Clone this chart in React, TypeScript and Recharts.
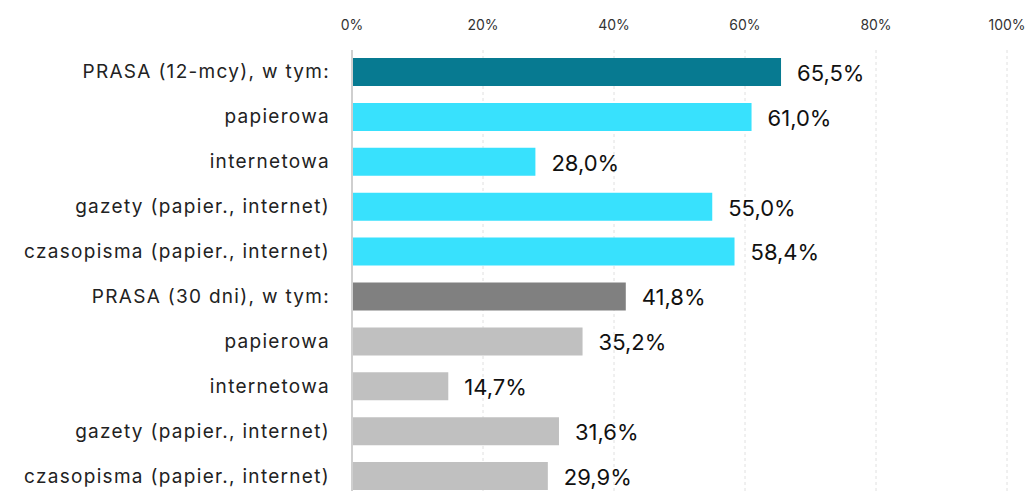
import React from "react";
import {
  BarChart,
  Bar,
  XAxis,
  YAxis,
  CartesianGrid,
  Cell,
  LabelList,
} from "recharts";

const categories = [
  "PRASA (12-mcy), w tym:",
  "papierowa",
  "internetowa",
  "gazety (papier., internet)",
  "czasopisma (papier., internet)",
  "PRASA (30 dni), w tym:",
  "papierowa",
  "internetowa",
  "gazety (papier., internet)",
  "czasopisma (papier., internet)",
];
const values = [65.5, 61.0, 28.0, 55.0, 58.4, 41.8, 35.2, 14.7, 31.6, 29.9];
const barColors = [
  "#077A91", "#38E1FD", "#38E1FD", "#38E1FD", "#38E1FD",
  "#808080", "#C0C0C0", "#C0C0C0", "#C0C0C0", "#C0C0C0",
];
const xTicks = [0, 20, 40, 60, 80, 100];

const data = categories.map((name, i) => ({ id: i, name, value: values[i] }));

const font = "Inter, 'Open Sans', sans-serif";
const pct = (v: number) => `${v.toFixed(1).replace(".", ",")}%`;

function CategoryTick({ x, y, payload }: any) {
  return (
    <text
      x={x - 14}
      y={y}
      dy={6}
      textAnchor="end"
      fontSize={19}
      letterSpacing={1.3}
      fill="#222"
      fontFamily={font}
    >
      {categories[payload.value]}
    </text>
  );
}

export default function App() {
  return (
    <div style={{ position: "absolute", left: 0, top: 0, background: "#fff" }}>
      <BarChart
        width={1029}
        height={499}
        data={data}
        layout="vertical"
        margin={{ top: 0, right: 22, bottom: 0, left: 0 }}
      >
        <CartesianGrid horizontal={false} stroke="#e0e0e0" strokeDasharray="3 3" />
        <XAxis
          type="number"
          orientation="top"
          domain={[0, 100]}
          ticks={xTicks}
          tickFormatter={(v) => `${v}%`}
          axisLine={false}
          tickLine={false}
          height={50}
          tick={{ fontSize: 14, fill: "#333", fontFamily: font }}
          dy={-12}
        />
        <YAxis
          type="category"
          dataKey="id"
          width={352}
          tick={<CategoryTick />}
          tickLine={false}
          axisLine={{ stroke: "#cfcfcf", strokeWidth: 2 }}
          interval={0}
        />
        <Bar dataKey="value" barSize={28} isAnimationActive={false}>
          {data.map((d, i) => (
            <Cell key={d.id} fill={barColors[i]} />
          ))}
          <LabelList
            dataKey="value"
            position="right"
            offset={16}
            formatter={(v: any) => pct(Number(v))}
            style={{ fontSize: 22, fill: "#111", fontFamily: font }}
            dy={1}
          />
        </Bar>
      </BarChart>
    </div>
  );
}
